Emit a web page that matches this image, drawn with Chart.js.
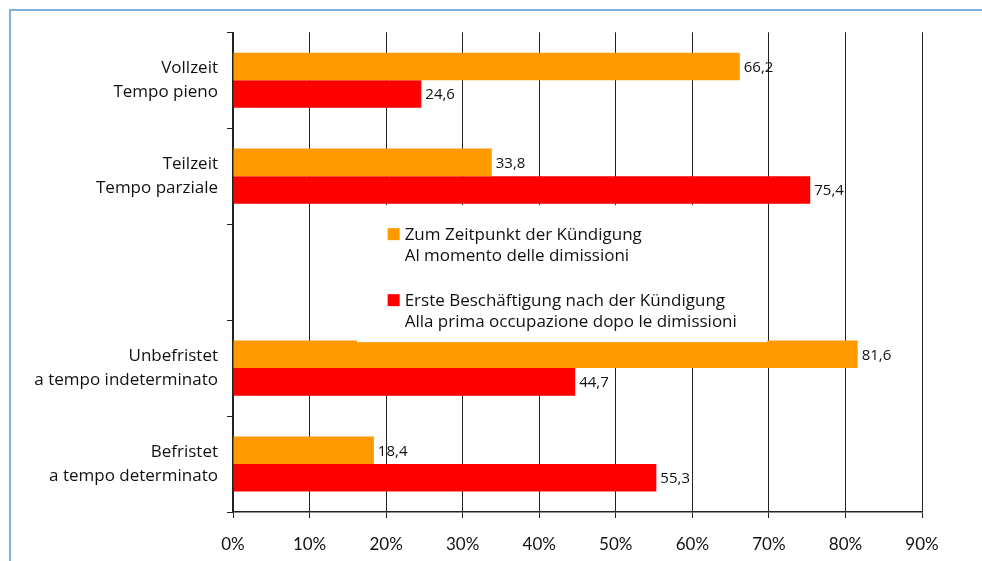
<!DOCTYPE html>
<html>
<head>
<meta charset="utf-8">
<script src="https://cdn.jsdelivr.net/npm/chart.js@4.4.1/dist/chart.umd.min.js"></script>
<style>
  html, body { margin: 0; padding: 0; background: #fff; }
  canvas { display: block; }
</style>
</head>
<body>
<canvas id="c" width="982" height="561"></canvas>
<script>
const categories = [
  ["Vollzeit", "Tempo pieno"],
  ["Teilzeit", "Tempo parziale"],
  "",
  ["Unbefristet", "a tempo indeterminato"],
  ["Befristet", "a tempo determinato"]
];
const seriesNames = [
  ["Zum Zeitpunkt der Kündigung", "Al momento delle dimissioni"],
  ["Erste Beschäftigung nach der Kündigung", "Alla prima occupazione dopo le dimissioni"]
];
const atResignation = [66.2, 33.8, null, 81.6, 18.4];
const firstJobAfter = [24.6, 75.4, null, 44.7, 55.3];
const xTicks = [0, 10, 20, 30, 40, 50, 60, 70, 80, 90];
const colors = ["#ff9900", "#ff0000"];

const FONT = "'Open Sans', Lato, sans-serif";
const TICKFONT = "Lato, 'Open Sans', sans-serif";

const frame = {
  id: 'frame',
  beforeDraw(chart) {
    const ctx = chart.ctx;
    ctx.save();
    ctx.strokeStyle = '#7fb2da';
    ctx.lineWidth = 2;
    ctx.beginPath();
    ctx.moveTo(10, 561);
    ctx.lineTo(10, 10);
    ctx.lineTo(982, 10);
    ctx.stroke();
    ctx.restore();
  }
};

const valueLabels = {
  id: 'valueLabels',
  afterDatasetsDraw(chart) {
    const ctx = chart.ctx;
    ctx.save();
    ctx.font = "15px " + FONT;
    ctx.fillStyle = '#111';
    ctx.textAlign = 'left';
    ctx.textBaseline = 'middle';
    chart.data.datasets.forEach((ds, i) => {
      const meta = chart.getDatasetMeta(i);
      meta.data.forEach((bar, j) => {
        const v = ds.data[j];
        if (v === null || v === undefined) return;
        ctx.fillText(v.toFixed(1).replace('.', ','), bar.x + 4, bar.y + 1);
      });
    });
    ctx.restore();
  }
};

const legendBox = {
  id: 'legendBox',
  afterDraw(chart) {
    const ctx = chart.ctx;
    const yScale = chart.scales.y;
    const xScale = chart.scales.x;
    const center = yScale.getPixelForValue(2);
    const bx = xScale.getPixelForValue(20.2);
    const left = xScale.getPixelForValue(16.2);
    const right = xScale.getPixelForValue(69.8);
    ctx.save();
    ctx.fillStyle = '#ffffff';
    ctx.fillRect(left, center - 67, right - left, 137);
    const ys = [center - 38, center + 28];
    ctx.font = "17px " + FONT;
    ctx.textBaseline = 'middle';
    ctx.textAlign = 'left';
    seriesNames.forEach((lines, i) => {
      const y = ys[i];
      ctx.fillStyle = colors[i];
      ctx.fillRect(bx, y - 6, 12, 12);
      ctx.fillStyle = '#111';
      lines.forEach((t, k) => ctx.fillText(t, bx + 17, y + 1 + k * 21));
    });
    ctx.restore();
  }
};

new Chart(document.getElementById('c'), {
  type: 'bar',
  data: {
    labels: categories,
    datasets: [
      { label: seriesNames[0].join(' '), data: atResignation, backgroundColor: colors[0], categoryPercentage: 0.575, barPercentage: 1 },
      { label: seriesNames[1].join(' '), data: firstJobAfter, backgroundColor: colors[1], categoryPercentage: 0.575, barPercentage: 1 }
    ]
  },
  options: {
    indexAxis: 'y',
    responsive: false,
    animation: false,
    layout: { padding: { top: 32, right: 60, left: 0, bottom: 0 } },
    plugins: { legend: { display: false }, tooltip: { enabled: false } },
    scales: {
      x: {
        min: 0, max: 90,
        afterBuildTicks(scale) { scale.ticks = xTicks.map(v => ({ value: v })); },
        afterFit(scale) { scale.height = 49; },
        grid: { color: '#222', lineWidth: 1, tickLength: 6, drawTicks: true },
        border: { color: '#222', width: 1.5 },
        ticks: {
          callback: v => v + '%',
          color: '#111',
          font: { family: TICKFONT, size: 17 },
          padding: 16,
          maxRotation: 0
        }
      },
      y: {
        afterFit(scale) { scale.width = 233; },
        grid: { display: true, drawOnChartArea: false, offset: true, tickLength: 6, color: '#222' },
        border: { color: '#222', width: 1.5 },
        ticks: {
          color: '#111',
          font: { family: FONT, size: 17, lineHeight: 1.37 },
          padding: 9,
          crossAlign: 'near'
        }
      }
    }
  },
  plugins: [frame, valueLabels, legendBox]
});
</script>
</body>
</html>
